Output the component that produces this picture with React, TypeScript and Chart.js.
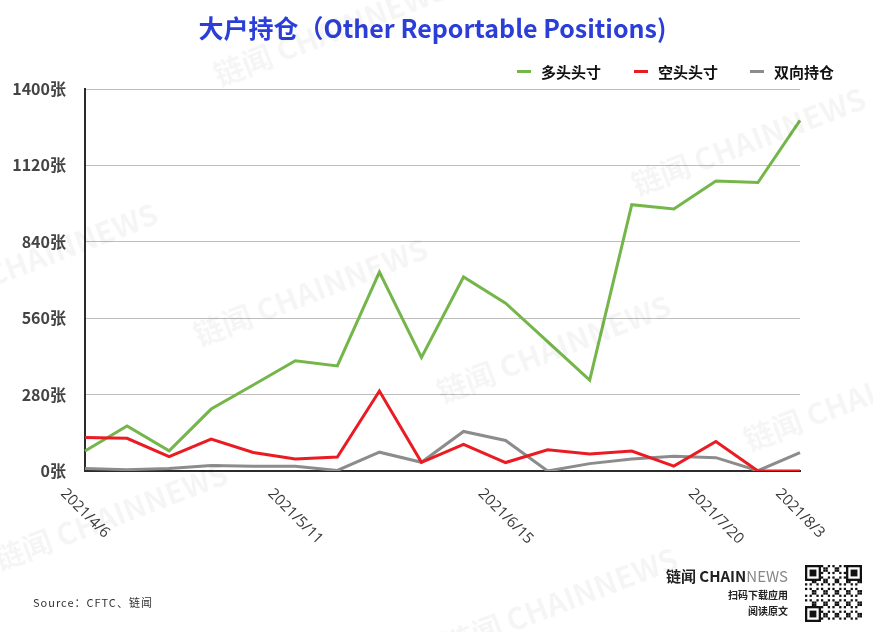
import React, { useEffect, useRef } from "react";
import { Chart, registerables } from "chart.js";

Chart.register(...registerables);

const categories = [
  "2021/4/6", "2021/4/13", "2021/4/20", "2021/4/27", "2021/5/4", "2021/5/11",
  "2021/5/18", "2021/5/25", "2021/6/1", "2021/6/8", "2021/6/15", "2021/6/22",
  "2021/6/29", "2021/7/6", "2021/7/13", "2021/7/20", "2021/7/27", "2021/8/3",
];
const shownLabels = ["2021/4/6", "2021/5/11", "2021/6/15", "2021/7/20", "2021/8/3"];

const longPositions = [73, 165, 74, 227, 315, 404, 385, 729, 416, 711, 615, 474, 333, 976, 960, 1063, 1057, 1285];
const shortPositions = [123, 120, 53, 117, 68, 44, 51, 293, 32, 98, 31, 78, 62, 73, 18, 108, 0, 0];
const spreadPositions = [9, 5, 9, 20, 17, 17, 2, 69, 32, 145, 112, 0, 27, 44, 54, 49, 1, 67];

const seriesNames = ["多头头寸", "空头头寸", "双向持仓"];
const yTicks = [0, 280, 560, 840, 1120, 1400];

const GREEN = "#74b64a";
const RED = "#ea1b22";
const GRAY = "#8c8c8c";
const FONT = "'Noto Sans CJK SC', 'Noto Sans', sans-serif";

const xLabelPlugin = {
  id: "xLabelPlugin",
  afterDraw(chart: any) {
    const ctx = chart.ctx;
    const xs = chart.scales.x;
    const size = 15;
    ctx.save();
    ctx.font = `${size}px 'Open Sans', 'Noto Sans', sans-serif`;
    ctx.fillStyle = "#3a3a3a";
    ctx.textAlign = "center";
    ctx.textBaseline = "middle";
    categories.forEach((c, i) => {
      if (!shownLabels.includes(c)) return;
      const x = xs.getPixelForValue(i);
      const w = ctx.measureText(c).width;
      const cy = chart.chartArea.bottom + 15 + (w + size) * 0.3535;
      ctx.save();
      ctx.translate(x, cy);
      ctx.rotate(Math.PI / 4);
      ctx.fillText(c, 0, 0);
      ctx.restore();
    });
    ctx.restore();
  },
};

function QR() {
  const ref = useRef<HTMLCanvasElement>(null);
  useEffect(() => {
    const cv = ref.current;
    if (!cv) return;
    const ctx = cv.getContext("2d")!;
    const n = 25;
    const m = 57 / n;
    ctx.fillStyle = "#fff";
    ctx.fillRect(0, 0, 57, 57);
    ctx.fillStyle = "#111";
    for (let r = 0; r < n; r++) {
      for (let c = 0; c < n; c++) {
        if ((r * 7 + c * 13 + r * c * 3) % 5 < 2) ctx.fillRect(c * m, r * m, m, m);
      }
    }
    const finder = (x: number, y: number) => {
      ctx.fillStyle = "#111";
      ctx.fillRect(x * m, y * m, 7 * m, 7 * m);
      ctx.fillStyle = "#fff";
      ctx.fillRect((x + 1) * m, (y + 1) * m, 5 * m, 5 * m);
      ctx.fillStyle = "#111";
      ctx.fillRect((x + 2) * m, (y + 2) * m, 3 * m, 3 * m);
    };
    finder(0, 0);
    finder(n - 7, 0);
    finder(0, n - 7);
  }, []);
  return <canvas ref={ref} width={57} height={57} style={{ position: "absolute", left: 805, top: 565 }} />;
}

const watermarks = [
  { x: 310, y: 290 },
  { x: 553, y: 347 },
  { x: 748, y: 140 },
  { x: 40, y: 255 },
  { x: 110, y: 515 },
  { x: 560, y: 600 },
  { x: 860, y: 395 },
  { x: 330, y: 30 },
];

export default function App() {
  const canvasRef = useRef<HTMLCanvasElement>(null);

  useEffect(() => {
    const canvas = canvasRef.current;
    if (!canvas) return;
    const chart = new Chart(canvas, {
      type: "line",
      data: {
        labels: categories,
        datasets: [
          { label: seriesNames[0], data: longPositions, borderColor: GREEN, backgroundColor: GREEN, borderWidth: 3, pointRadius: 0, tension: 0, order: 3 },
          { label: seriesNames[1], data: shortPositions, borderColor: RED, backgroundColor: RED, borderWidth: 3, pointRadius: 0, tension: 0, order: 1 },
          { label: seriesNames[2], data: spreadPositions, borderColor: GRAY, backgroundColor: GRAY, borderWidth: 3, pointRadius: 0, tension: 0, order: 2 },
        ],
      },
      options: {
        responsive: false,
        animation: false,
        devicePixelRatio: 1,
        layout: { padding: { left: 0, right: 73, top: 89, bottom: 161 } },
        plugins: { legend: { display: false }, title: { display: false }, tooltip: { enabled: false } },
        scales: {
          x: {
            type: "category",
            offset: false,
            grid: { display: false, drawTicks: false },
            border: { display: true, color: "#2b2b2b", width: 2 },
            ticks: { display: false },
            afterFit: (s: any) => { s.height = 0; },
          },
          y: {
            min: 0,
            max: 1400,
            afterBuildTicks: (s: any) => { s.ticks = yTicks.map((v) => ({ value: v })); },
            grid: { color: "#bdbdbd", lineWidth: 1, drawTicks: false },
            border: { display: true, color: "#2b2b2b", width: 2 },
            ticks: {
              padding: 19,
              color: "#444",
              font: { family: FONT, size: 16, weight: "600" },
              callback: (v: any) => `${v}张`,
            },
            afterFit: (s: any) => { s.width = 85; },
          },
        },
      } as any,
      plugins: [xLabelPlugin],
    });
    return () => chart.destroy();
  }, []);

  const legendColors = [GREEN, RED, GRAY];
  const legendX = [517, 634, 750];

  return (
    <div style={{ position: "absolute", left: 0, top: 0, width: 873, height: 632, background: "#fff", overflow: "hidden", fontFamily: FONT }}>
      <canvas ref={canvasRef} width={873} height={632} style={{ position: "absolute", left: 0, top: 0 }} />
      <div style={{ position: "absolute", left: -4, top: 11, width: 873, height: 32, lineHeight: "32px", textAlign: "center", color: "#2b3fd8", fontWeight: 700, fontSize: 25, whiteSpace: "nowrap" }}>
        大户持仓（Other Reportable Positions)
      </div>
      {seriesNames.map((name, i) => (
        <React.Fragment key={name}>
          <div style={{ position: "absolute", left: legendX[i], top: 70, width: 14, height: 3, background: legendColors[i] }} />
          <div style={{ position: "absolute", left: legendX[i] + 24, top: 61, height: 22, lineHeight: "22px", fontSize: 15, fontWeight: 700, color: "#111", whiteSpace: "nowrap" }}>
            {name}
          </div>
        </React.Fragment>
      ))}
      <div style={{ position: "absolute", left: 33, top: 594, fontSize: 11, color: "#333", letterSpacing: 1, whiteSpace: "nowrap" }}>
        Source：CFTC、链闻
      </div>
      <div style={{ position: "absolute", left: 640, top: 566, width: 148, textAlign: "right", fontSize: 15, fontWeight: 700, color: "#222", whiteSpace: "nowrap", lineHeight: "20px" }}>
        链闻 CHAIN<span style={{ color: "#888", fontWeight: 400 }}>NEWS</span>
      </div>
      <div style={{ position: "absolute", left: 680, top: 588, width: 108, textAlign: "right", fontSize: 10, fontWeight: 700, color: "#222", whiteSpace: "nowrap", lineHeight: "14px" }}>
        扫码下载应用
      </div>
      <div style={{ position: "absolute", left: 680, top: 604, width: 108, textAlign: "right", fontSize: 10, fontWeight: 700, color: "#222", whiteSpace: "nowrap", lineHeight: "14px" }}>
        阅读原文
      </div>
      <QR />
      {watermarks.map((w, i) => (
        <div key={i} style={{ position: "absolute", left: w.x - 150, top: w.y - 20, width: 300, height: 40, lineHeight: "40px", textAlign: "center", fontSize: 30, fontWeight: 700, color: "rgba(0,0,0,0.04)", transform: "rotate(-21deg)", whiteSpace: "nowrap", pointerEvents: "none" }}>
          链闻 CHAINNEWS
        </div>
      ))}
    </div>
  );
}
